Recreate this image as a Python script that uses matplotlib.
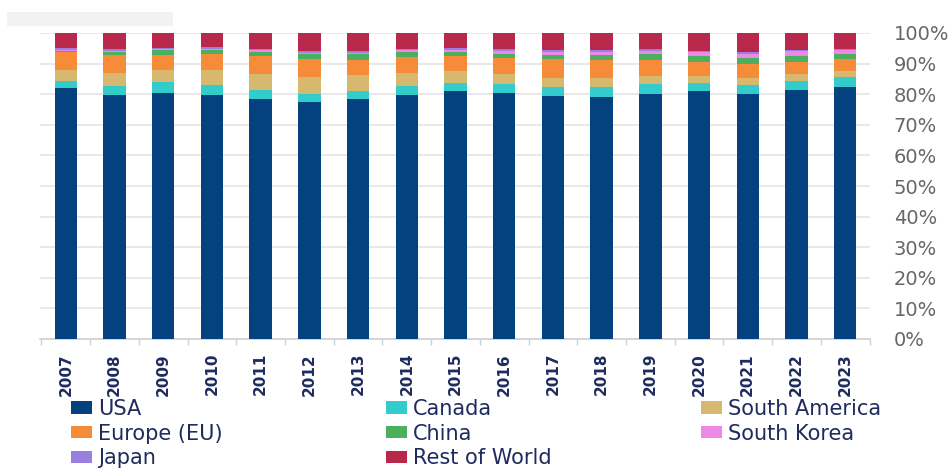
import matplotlib
matplotlib.use("Agg")
import matplotlib.pyplot as plt
from matplotlib.patches import Rectangle, Patch
import numpy as np

years = [str(y) for y in range(2007, 2024)]
usa = [82.0, 79.8, 80.4, 79.8, 78.4, 77.4, 78.4, 79.8, 80.9, 80.4, 79.3, 79.1, 80.2, 80.9, 80.2, 81.5, 82.3]
canada = [2.4, 2.8, 3.5, 3.3, 2.9, 2.8, 2.7, 2.8, 2.8, 3.0, 2.9, 3.1, 3.1, 2.8, 2.7, 2.9, 3.2]
south_america = [3.6, 4.3, 4.1, 4.9, 5.3, 5.4, 5.3, 4.3, 3.8, 3.2, 3.1, 3.1, 2.7, 2.1, 2.4, 2.2, 2.0]
europe = [5.8, 6.0, 4.9, 5.1, 5.8, 6.0, 4.9, 5.2, 4.9, 5.2, 6.2, 6.0, 5.3, 4.6, 4.6, 3.8, 4.0]
china = [0.4, 0.9, 1.5, 1.3, 1.3, 1.5, 1.8, 1.6, 1.4, 1.3, 1.4, 1.6, 1.8, 2.0, 1.9, 2.2, 1.6]
south_korea = [0.3, 0.4, 0.3, 0.4, 0.6, 0.5, 0.5, 0.6, 0.6, 1.0, 0.9, 0.9, 1.0, 1.4, 1.5, 1.4, 1.2]
japan = [0.6, 0.7, 0.4, 0.5, 0.6, 0.6, 0.6, 0.6, 0.7, 0.8, 0.7, 0.7, 0.7, 0.4, 0.4, 0.5, 0.6]
rest_of_world = [4.9, 5.1, 4.9, 4.7, 5.1, 5.8, 5.8, 5.1, 4.9, 5.1, 5.5, 5.5, 5.2, 5.8, 6.3, 5.5, 5.1]

series_names = ["USA", "Canada", "South America", "Europe (EU)", "China",
                "South Korea", "Japan", "Rest of World"]
series_values = [usa, canada, south_america, europe, china, south_korea, japan, rest_of_world]
colors = ["#03427F", "#33CCCC", "#D6B86F", "#F68B3A", "#4CAF5E",
          "#EE88E8", "#9B7FE0", "#B8284A"]

W, H = 949, 468
fig = plt.figure(figsize=(W / 100, H / 100), dpi=100)
fig.patch.set_facecolor("white")

# redacted title block
fig.patches.append(Rectangle((7 / W, 1 - 26 / H), 166 / W, 14 / H,
                             transform=fig.transFigure, facecolor="#f2f2f2",
                             edgecolor="none"))

ax = fig.add_axes([40 / W, 1 - 339 / H, (870 - 40) / W, (339 - 33) / H])
x = np.arange(len(years))
bottom = np.zeros(len(years))
handles = []
for name, vals, c in zip(series_names, series_values, colors):
    v = np.array(vals)
    ax.bar(x, v, bottom=bottom, width=0.46, color=c, linewidth=0, zorder=3)
    bottom += v
    handles.append(Patch(facecolor=c, edgecolor="none", label=name))

ax.set_xlim(-0.53, len(years) - 1 + 0.51)
ax.set_ylim(0, 100)
ax.set_yticks(np.arange(0, 101, 10))
ax.set_yticklabels([f"{t}%" for t in range(0, 101, 10)])
ax.yaxis.tick_right()
ax.tick_params(axis="y", length=0, pad=17, labelsize=14, labelcolor="#666666")
for lab in ax.get_yticklabels():
    lab.set_horizontalalignment("left")
ax.grid(axis="y", color="#e6e6e6", linewidth=1.3, zorder=0)
ax.set_axisbelow(True)

ax.set_xticks(x)
ax.set_xticklabels(years, rotation=90, fontsize=11, color="#1F2A5E",
                   fontweight="bold")
ax.tick_params(axis="x", which="major", length=0, pad=10)
ax.set_xticks(np.arange(-0.5, len(years), 1.0), minor=True)
ax.tick_params(axis="x", which="minor", length=4, color="#d0d0d0", width=1)

for s in ["top", "left", "right"]:
    ax.spines[s].set_visible(False)
ax.spines["bottom"].set_color("#d0d0d0")
ax.spines["bottom"].set_linewidth(1.2)

col_x = [71, 386, 701]
for ci in range(3):
    hs = handles[ci::3]
    fig.legend(handles=hs, labels=[h.get_label() for h in hs],
               loc="upper left", bbox_to_anchor=(col_x[ci] / W, 1 - 399 / H),
               bbox_transform=fig.transFigure, frameon=False, borderpad=0,
               borderaxespad=0, handlelength=1.0, handleheight=0.55,
               handletextpad=0.3, labelspacing=0.22, fontsize=15,
               labelcolor="#1F2A5E")

fig.savefig("out.png", dpi=100, facecolor="white")
